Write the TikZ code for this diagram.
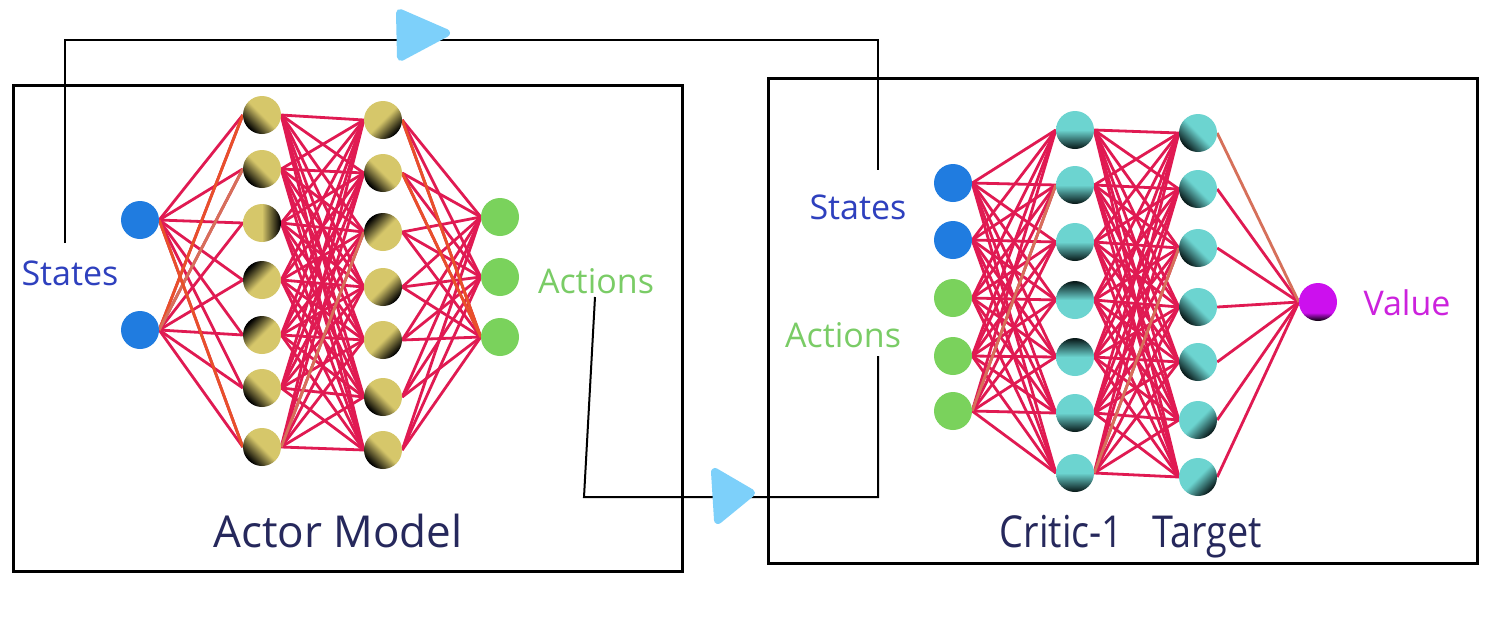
\documentclass[tikz,border=0pt]{standalone}
\usepackage{fontspec}
\setmainfont{Open Sans}
\usetikzlibrary{backgrounds}
\definecolor{khaki}{RGB}{214,199,106}
\definecolor{cyanish}{RGB}{108,212,208}
\definecolor{cydark}{RGB}{10,28,28}
\definecolor{magn}{RGB}{204,16,238}
\definecolor{nblue}{RGB}{32,124,224}
\definecolor{ngreen}{RGB}{122,210,92}
\definecolor{syncol}{RGB}{224,26,82}
\definecolor{synorange}{RGB}{232,80,42}
\definecolor{synsalmon}{RGB}{214,112,90}
\definecolor{arrowblue}{RGB}{125,208,250}
\definecolor{txtblue}{RGB}{46,64,190}
\definecolor{txtgreen}{RGB}{122,204,102}
\definecolor{txtmag}{RGB}{204,34,221}
\definecolor{txtnavy}{RGB}{38,40,92}
\pgfdeclareverticalshading{khshade}{100bp}{color(0bp)=(black); color(26bp)=(black); color(50bp)=(khaki); color(100bp)=(khaki)}
\pgfdeclareverticalshading{cyshade}{100bp}{color(0bp)=(cydark); color(26bp)=(cydark); color(50bp)=(cyanish); color(100bp)=(cyanish)}
\pgfdeclareverticalshading{mgshade}{100bp}{color(0bp)=(black); color(25bp)=(black); color(36bp)=(magn); color(100bp)=(magn)}
\begin{document}
\begin{tikzpicture}[x=1pt,y=-1pt,
  neuron/.style={circle, minimum size=38pt, inner sep=0pt},
  inblue/.style={neuron, fill=nblue},
  ingreen/.style={neuron, fill=ngreen},
  khnode/.style={neuron, shading=khshade, shading angle=#1},
  cynode/.style={neuron, shading=cyshade, shading angle=#1},
  valnode/.style={neuron, shading=mgshade},
  syn/.style={draw=syncol, line width=2.8pt},
  synor/.style={draw=synorange, line width=2.8pt},
  synsa/.style={draw=synsalmon, line width=2.8pt},
  wire/.style={draw=black, line width=2pt},
  frame/.style={draw=black, line width=3pt, inner sep=0pt},
  lbl/.style={font=\fontsize{34}{40}\selectfont, inner sep=0pt},
  ttl/.style={font=\fontsize{44}{50}\selectfont, inner sep=0pt, text=txtnavy, anchor=base},
  tri/.style={fill=arrowblue, draw=arrowblue, line width=8pt, line join=round}]
\useasboundingbox (0,0) rectangle (1499,619);

% frames
\node[frame, minimum width=669pt, minimum height=486pt] (actorbox) at (347.5,328) {};
\node[frame, minimum width=709pt, minimum height=485pt] (criticbox) at (1122.5,320.5) {};

% actor network
\node[inblue] (ai1) at (140,220) {};
\node[inblue] (ai2) at (140,330) {};
\foreach \y/\a [count=\i] in {115/-45,169/-45,223/90,280/-135,335/-135,388/-45,447/-45}
  \node[khnode=\a] (ah\i) at (262,\y) {};
\foreach \y/\a [count=\i] in {120/45,173/-45,232/-135,287/45,340/45,397/-45,450/-45}
  \node[khnode=\a] (ag\i) at (383,\y) {};
\node[ingreen] (ao1) at (500,217) {};
\node[ingreen] (ao2) at (500,277) {};
\node[ingreen] (ao3) at (500,337) {};

% critic network
\node[inblue] (ci1) at (953,183) {};
\node[inblue] (ci2) at (953,240) {};
\node[ingreen] (ci3) at (953,298) {};
\node[ingreen] (ci4) at (953,356) {};
\node[ingreen] (ci5) at (953,411) {};
\foreach \y/\a [count=\i] in {130/0,185/0,242/0,300/180,357/180,413/0,473/0}
  \node[cynode=\a] (ch\i) at (1075,\y) {};
\foreach \y/\a [count=\i] in {133/-45,189/-45,248/-45,307/-45,362/-45,420/45,477/45}
  \node[cynode=\a] (cg\i) at (1198,\y) {};
\node[valnode] (cv) at (1318,302) {};

% labels
\node[lbl, text=txtblue] (sl) at (70,273) {States};
\node[lbl, text=txtgreen] (al) at (596,281) {Actions};
\node[lbl, text=txtblue] (sr) at (858,207) {States};
\node[lbl, text=txtgreen] (ar) at (843,335) {Actions};
\node[lbl, text=txtmag] (vl) at (1407,303) {Value};
\node[ttl] (at) at (338,547) {Actor Model};
\node[ttl, xscale=0.86, transform shape] (ct) at (1131,547) {Critic-1\hspace{34pt}Target};

% wires
\coordinate (w1) at (65,243);
\coordinate (w1c) at (65,40);
\coordinate (w2c) at (878,40);
\coordinate (w2) at (878,170);
\draw[wire] (w1) -- (w1c) -- (w2c) -- (w2);
\coordinate (w3) at (595,297);
\coordinate (w3c) at (584,497);
\coordinate (w4c) at (878,497);
\coordinate (w4) at (878,356);
\draw[wire] (w3) -- (w3c) -- (w4c) -- (w4);
\filldraw[tri] (400,13) -- (446,33) -- (401,57) -- cycle;
\filldraw[tri] (715,472) -- (751,493) -- (718,520) -- cycle;

\begin{pgfonlayer}{background}
  \fill[white] (0,0) rectangle (1499,619);
  \foreach \i in {1,2} \foreach \j in {1,...,7} \draw[syn] (ai\i.east) -- (ah\j.west);
  \foreach \i in {1,...,7} \foreach \j in {1,...,7} \draw[syn] (ah\i.east) -- (ag\j.west);
  \foreach \i in {1,...,7} \foreach \j in {1,2,3} \draw[syn] (ag\i.east) -- (ao\j.west);
  \draw[synor] (ai2.east) -- (ah1.west);
  \draw[synsa] (ai2.east) -- (ah2.west);
  \draw[synor] (ai1.east) -- (ah7.west);
  \draw[synsa] (ah7.east) -- (ag3.west);
  \draw[synor] (ag1.east) -- (ao3.west);
  \draw[synor] (ag2.east) -- (ao3.west);
  \foreach \i in {1,...,5} \foreach \j in {1,...,7} \draw[syn] (ci\i.east) -- (ch\j.west);
  \foreach \i in {1,...,7} \foreach \j in {1,...,7} \draw[syn] (ch\i.east) -- (cg\j.west);
  \foreach \i in {2,...,7} \draw[syn] (cg\i.east) -- (cv.west);
  \draw[synsa] (cg1.east) -- (cv.west);
  \draw[synsa] (ci5.east) -- (ch2.west);
  \draw[synsa] (ch7.east) -- (cg3.west);
\end{pgfonlayer}
\end{tikzpicture}
\end{document}
